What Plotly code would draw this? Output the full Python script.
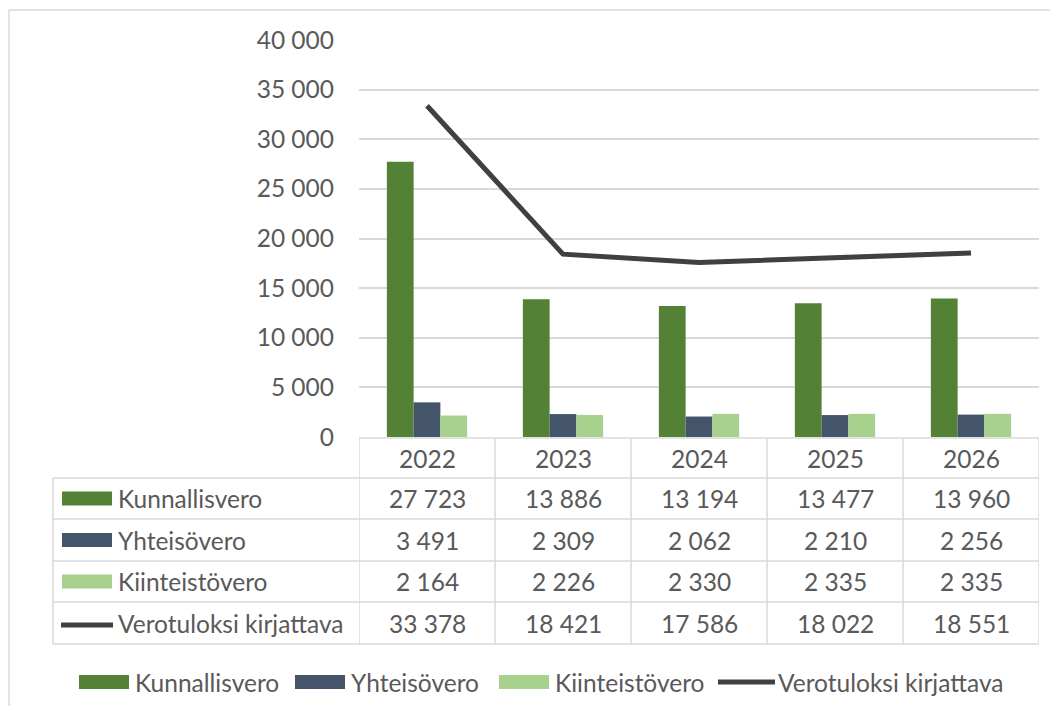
import plotly.graph_objects as go

PAGE_W, PAGE_H = 1058, 714
BODY = 8
W, H = PAGE_W - 2 * BODY, PAGE_H - 2 * BODY

years = ["2022", "2023", "2024", "2025", "2026"]
kunnallisvero = [27723, 13886, 13194, 13477, 13960]
yhteisovero = [3491, 2309, 2062, 2210, 2256]
kiinteistovero = [2164, 2226, 2330, 2335, 2335]
verotuloksi = [33378, 18421, 17586, 18022, 18551]

names = ["Kunnallisvero", "Yhteisövero", "Kiinteistövero", "Verotuloksi kirjattava"]
colors = ["#538135", "#44546A", "#A9D18E", "#404040"]
series = [kunnallisvero, yhteisovero, kiinteistovero, verotuloksi]

FONT = "Lato"
FS = 24.5
TXT = "#595959"
GRID = "#D9D9D9"


def X(px):
    return (px - BODY) / W


def Y(py):
    return 1 - (py - BODY) / H


def fmt(v):
    return f"{v:,}".replace(",", " ")


fig = go.Figure()
for i in range(3):
    fig.add_trace(go.Bar(x=years, y=series[i], name=names[i],
                         marker=dict(color=colors[i], line=dict(width=0)),
                         showlegend=False))
fig.add_trace(go.Scatter(x=years, y=verotuloksi, name=names[3], mode="lines",
                         line=dict(color=colors[3], width=5), showlegend=False))

shapes = []
annotations = []

# outer chart border (top and left visible)
shapes.append(dict(type="line", xref="paper", yref="paper", x0=X(9), x1=1, y0=Y(10), y1=Y(10),
                   line=dict(color=GRID, width=1.5)))
shapes.append(dict(type="line", xref="paper", yref="paper", x0=X(9), x1=X(9), y0=Y(10), y1=0,
                   line=dict(color=GRID, width=1.5)))

# data table geometry
top_hdr = 438
row_lines = [478, 519, 561, 602, 644]
shapes.append(dict(type="line", xref="x", yref="paper", x0=-0.5, x1=len(years) - 0.5,
                   y0=Y(top_hdr), y1=Y(top_hdr), line=dict(color=GRID, width=1.5)))
for ry in row_lines:
    shapes.append(dict(type="line", xref="paper", yref="paper", x0=X(53), x1=X(1039),
                       y0=Y(ry), y1=Y(ry), line=dict(color=GRID, width=1.5)))
shapes.append(dict(type="line", xref="paper", yref="paper", x0=X(53), x1=X(53),
                   y0=Y(row_lines[0]), y1=Y(row_lines[-1]), line=dict(color=GRID, width=1.5)))
for i in range(len(years) + 1):
    shapes.append(dict(type="line", xref="x", yref="paper", x0=i - 0.5, x1=i - 0.5,
                       y0=Y(top_hdr), y1=Y(row_lines[-1]), line=dict(color=GRID, width=1.5)))

for i, yr in enumerate(years):
    annotations.append(dict(x=i, y=Y((top_hdr + row_lines[0]) / 2), xref="x", yref="paper",
                            text=yr, showarrow=False, xanchor="center", yanchor="middle",
                            font=dict(family=FONT, size=FS, color=TXT)))

for r in range(4):
    cy = (row_lines[r] + row_lines[r + 1]) / 2
    if r < 3:
        shapes.append(dict(type="rect", xref="paper", yref="paper", x0=X(62), x1=X(112),
                           y0=Y(cy - 7), y1=Y(cy + 7), fillcolor=colors[r], line=dict(width=0)))
    else:
        shapes.append(dict(type="line", xref="paper", yref="paper", x0=X(61), x1=X(113),
                           y0=Y(cy + 2), y1=Y(cy + 2), line=dict(color=colors[r], width=5)))
    annotations.append(dict(x=X(116), y=Y(cy), xref="paper", yref="paper", text=names[r],
                            showarrow=False, xanchor="left", yanchor="middle",
                            font=dict(family=FONT, size=FS, color=TXT)))
    for i, v in enumerate(series[r]):
        annotations.append(dict(x=i, y=Y(cy), xref="x", yref="paper", text=fmt(v),
                                showarrow=False, xanchor="center", yanchor="middle",
                                font=dict(family=FONT, size=FS, color=TXT)))

# bottom legend
leg_y = 682
leg_items = [(79, 129, 133), (295, 345, 349), (499, 549, 553), (718, 775, 776)]
for r, (s0, s1, tx) in enumerate(leg_items):
    if r < 3:
        shapes.append(dict(type="rect", xref="paper", yref="paper", x0=X(s0), x1=X(s1),
                           y0=Y(leg_y - 7), y1=Y(leg_y + 7), fillcolor=colors[r], line=dict(width=0)))
    else:
        shapes.append(dict(type="line", xref="paper", yref="paper", x0=X(s0), x1=X(s1),
                           y0=Y(leg_y), y1=Y(leg_y), line=dict(color=colors[r], width=5)))
    annotations.append(dict(x=X(tx), y=Y(leg_y), xref="paper", yref="paper", text=names[r],
                            showarrow=False, xanchor="left", yanchor="middle",
                            font=dict(family=FONT, size=FS, color=TXT)))

fig.update_layout(
    width=W, height=H, autosize=False,
    margin=dict(l=0, r=0, t=0, b=0),
    paper_bgcolor="white", plot_bgcolor="white",
    separators=", ",
    barmode="group", bargap=0.41, bargroupgap=0,
    font=dict(family=FONT, size=FS, color=TXT),
    xaxis=dict(type="category", domain=[X(359), X(1039)], range=[-0.5, len(years) - 0.5],
               showticklabels=False, showgrid=False, zeroline=False, showline=False, ticks=""),
    yaxis=dict(domain=[Y(437), Y(40)], range=[0, 40000], dtick=5000, tickformat=",d",
               showgrid=True, gridcolor=GRID, gridwidth=1.5, zeroline=False, showline=False,
               ticks="", ticklabelstandoff=24, automargin=False,
               tickfont=dict(family=FONT, size=FS, color=TXT)),
    shapes=shapes,
    annotations=annotations,
    showlegend=False,
)

fig.write_html("out.html")
